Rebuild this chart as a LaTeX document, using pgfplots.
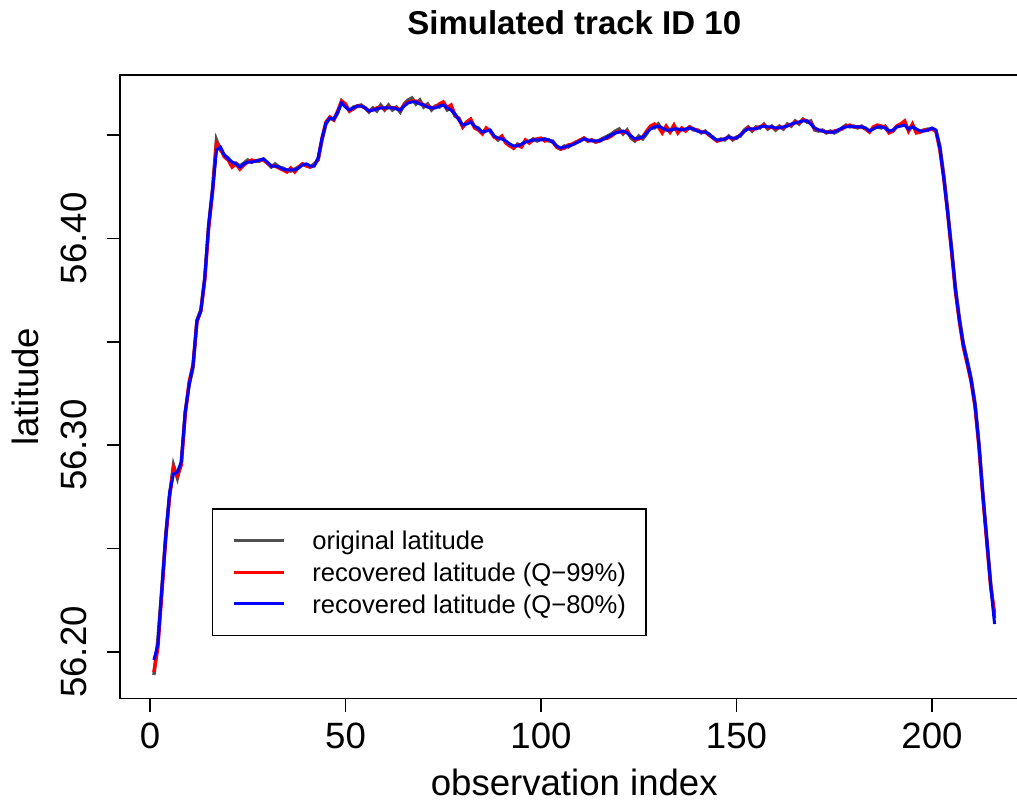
\documentclass[border=0pt]{standalone}
\usepackage{fontspec}
\setmainfont{Liberation Sans}
\usepackage{pgfplots}
\usepackage{pgfplotstable}
\pgfplotsset{compat=1.18}
\definecolor{origgray}{HTML}{505050}
\definecolor{recred}{HTML}{FF0000}
\definecolor{recblue}{HTML}{0000FF}

\pgfplotstableread{
idx gray red blue
1 56.1889 56.1903 56.1961
2 56.2058 56.2019 56.2034
3 56.2300 56.2276 56.2300
4 56.2566 56.2542 56.2551
5 56.2759 56.2750 56.2769
6 56.2904 56.2890 56.2861
7 56.2841 56.2851 56.2870
8 56.2919 56.2904 56.2919
9 56.3161 56.3146 56.3161
10 56.3291 56.3306 56.3291
11 56.3373 56.3388 56.3388
12 56.3605 56.3596 56.3601
13 56.3654 56.3649 56.3649
14 56.3809 56.3799 56.3809
15 56.4065 56.4050 56.4065
16 56.4244 56.4224 56.4234
17 56.4476 56.4461 56.4427
18 56.4427 56.4437 56.4442
19 56.4403 56.4394 56.4403
20 56.4389 56.4379 56.4384
21 56.4364 56.4345 56.4369
22 56.4364 56.4360 56.4360
23 56.4350 56.4335 56.4345
24 56.4364 56.4355 56.4360
25 56.4379 56.4369 56.4369
26 56.4369 56.4379 56.4369
27 56.4374 56.4374 56.4374
28 56.4374 56.4379 56.4379
29 56.4384 56.4379 56.4384
30 56.4364 56.4364 56.4369
31 56.4345 56.4350 56.4350
32 56.4360 56.4350 56.4350
33 56.4345 56.4340 56.4345
34 56.4340 56.4331 56.4335
35 56.4331 56.4321 56.4331
36 56.4326 56.4340 56.4331
37 56.4335 56.4321 56.4331
38 56.4345 56.4345 56.4340
39 56.4360 56.4360 56.4355
40 56.4355 56.4350 56.4360
41 56.4345 56.4345 56.4350
42 56.4360 56.4355 56.4350
43 56.4379 56.4384 56.4389
44 56.4476 56.4485 56.4485
45 56.4553 56.4563 56.4558
46 56.4582 56.4587 56.4582
47 56.4573 56.4573 56.4577
48 56.4606 56.4616 56.4611
49 56.4664 56.4664 56.4655
50 56.4640 56.4650 56.4635
51 56.4616 56.4616 56.4621
52 56.4635 56.4626 56.4631
53 56.4640 56.4640 56.4640
54 56.4645 56.4640 56.4640
55 56.4631 56.4631 56.4631
56 56.4611 56.4616 56.4616
57 56.4631 56.4621 56.4621
58 56.4616 56.4631 56.4626
59 56.4645 56.4635 56.4631
60 56.4621 56.4626 56.4631
61 56.4645 56.4635 56.4631
62 56.4621 56.4631 56.4631
63 56.4635 56.4631 56.4626
64 56.4611 56.4621 56.4621
65 56.4650 56.4645 56.4640
66 56.4669 56.4660 56.4655
67 56.4679 56.4664 56.4660
68 56.4650 56.4664 56.4660
69 56.4669 56.4655 56.4650
70 56.4635 56.4645 56.4645
71 56.4650 56.4640 56.4635
72 56.4621 56.4631 56.4631
73 56.4640 56.4635 56.4631
74 56.4635 56.4650 56.4640
75 56.4655 56.4660 56.4645
76 56.4621 56.4631 56.4631
77 56.4631 56.4645 56.4621
78 56.4592 56.4597 56.4602
79 56.4582 56.4577 56.4573
80 56.4539 56.4539 56.4548
81 56.4563 56.4563 56.4553
82 56.4573 56.4577 56.4563
83 56.4539 56.4534 56.4543
84 56.4534 56.4524 56.4529
85 56.4510 56.4505 56.4514
86 56.4529 56.4534 56.4519
87 56.4519 56.4519 56.4524
88 56.4495 56.4490 56.4495
89 56.4476 56.4481 56.4485
90 56.4490 56.4495 56.4481
91 56.4466 56.4461 56.4471
92 56.4456 56.4447 56.4456
93 56.4437 56.4437 56.4447
94 56.4456 56.4452 56.4447
95 56.4447 56.4442 56.4456
96 56.4471 56.4476 56.4466
97 56.4466 56.4461 56.4471
98 56.4481 56.4476 56.4476
99 56.4471 56.4481 56.4476
100 56.4481 56.4485 56.4476
101 56.4481 56.4471 56.4481
102 56.4471 56.4476 56.4476
103 56.4471 56.4466 56.4466
104 56.4442 56.4442 56.4447
105 56.4432 56.4432 56.4437
106 56.4447 56.4437 56.4442
107 56.4442 56.4452 56.4447
108 56.4456 56.4456 56.4452
109 56.4466 56.4466 56.4461
110 56.4471 56.4476 56.4471
111 56.4485 56.4485 56.4481
112 56.4471 56.4471 56.4476
113 56.4476 56.4476 56.4471
114 56.4466 56.4466 56.4471
115 56.4476 56.4471 56.4471
116 56.4485 56.4481 56.4481
117 56.4495 56.4485 56.4490
118 56.4505 56.4495 56.4500
119 56.4519 56.4510 56.4510
120 56.4529 56.4519 56.4514
121 56.4505 56.4510 56.4519
122 56.4524 56.4519 56.4510
123 56.4485 56.4495 56.4495
124 56.4471 56.4476 56.4481
125 56.4495 56.4481 56.4485
126 56.4481 56.4490 56.4490
127 56.4505 56.4519 56.4510
128 56.4539 56.4543 56.4529
129 56.4534 56.4553 56.4539
130 56.4553 56.4539 56.4543
131 56.4524 56.4510 56.4534
132 56.4534 56.4543 56.4524
133 56.4514 56.4514 56.4524
134 56.4534 56.4548 56.4529
135 56.4519 56.4510 56.4529
136 56.4529 56.4534 56.4524
137 56.4524 56.4519 56.4529
138 56.4539 56.4539 56.4534
139 56.4524 56.4529 56.4529
140 56.4524 56.4524 56.4519
141 56.4510 56.4514 56.4514
142 56.4519 56.4514 56.4514
143 56.4500 56.4500 56.4505
144 56.4490 56.4485 56.4485
145 56.4471 56.4471 56.4476
146 56.4481 56.4476 56.4476
147 56.4476 56.4481 56.4481
148 56.4495 56.4490 56.4490
149 56.4476 56.4481 56.4485
150 56.4490 56.4485 56.4485
151 56.4495 56.4500 56.4500
152 56.4524 56.4519 56.4519
153 56.4539 56.4534 56.4529
154 56.4519 56.4524 56.4529
155 56.4539 56.4534 56.4529
156 56.4534 56.4539 56.4539
157 56.4553 56.4548 56.4543
158 56.4529 56.4534 56.4539
159 56.4543 56.4539 56.4539
160 56.4524 56.4529 56.4534
161 56.4543 56.4539 56.4534
162 56.4529 56.4534 56.4539
163 56.4553 56.4548 56.4543
164 56.4543 56.4548 56.4553
165 56.4568 56.4563 56.4558
166 56.4553 56.4558 56.4563
167 56.4577 56.4573 56.4568
168 56.4563 56.4568 56.4568
169 56.4568 56.4558 56.4553
170 56.4524 56.4529 56.4534
171 56.4519 56.4524 56.4524
172 56.4524 56.4519 56.4519
173 56.4510 56.4514 56.4514
174 56.4519 56.4514 56.4514
175 56.4510 56.4519 56.4514
176 56.4519 56.4524 56.4524
177 56.4534 56.4529 56.4534
178 56.4548 56.4543 56.4539
179 56.4539 56.4548 56.4543
180 56.4543 56.4539 56.4539
181 56.4534 56.4539 56.4539
182 56.4543 56.4539 56.4539
183 56.4529 56.4529 56.4534
184 56.4519 56.4514 56.4519
185 56.4534 56.4539 56.4529
186 56.4539 56.4548 56.4539
187 56.4534 56.4543 56.4539
188 56.4543 56.4539 56.4534
189 56.4519 56.4510 56.4519
190 56.4519 56.4519 56.4524
191 56.4543 56.4543 56.4539
192 56.4553 56.4553 56.4543
193 56.4558 56.4568 56.4548
194 56.4524 56.4519 56.4529
195 56.4548 56.4553 56.4539
196 56.4514 56.4510 56.4529
197 56.4519 56.4514 56.4519
198 56.4524 56.4524 56.4519
199 56.4529 56.4524 56.4524
200 56.4529 56.4529 56.4534
201 56.4519 56.4519 56.4524
202 56.4447 56.4427 56.4437
203 56.4307 56.4292 56.4292
204 56.4137 56.4123 56.4123
205 56.3954 56.3934 56.3944
206 56.3760 56.3741 56.3751
207 56.3615 56.3596 56.3605
208 56.3494 56.3475 56.3485
209 56.3412 56.3393 56.3402
210 56.3325 56.3306 56.3315
211 56.3204 56.3185 56.3194
212 56.3011 56.2991 56.3001
213 56.2769 56.2750 56.2759
214 56.2551 56.2532 56.2542
215 56.2334 56.2314 56.2324
216 56.2164 56.2189 56.2135
}\track

\begin{document}
\begin{tikzpicture}
\begin{axis}[
  at={(0pt,0pt)}, anchor=south west,
  scale only axis, width=453.95pt, height=311.65pt,
  xmin=-7.6, xmax=224.6, ymin=56.17761, ymax=56.47901,
  axis line style={line width=0.8pt, black},
  tick style={line width=0.8pt, black},
  tick align=outside, major tick length=6.7pt,
  tick pos=left,
  xtick={0,50,100,150,200}, xticklabels={0,50,100,150,200},
  ytick={56.20,56.25,56.30,56.35,56.40,56.45},
  yticklabels={56.20,,56.30,,56.40,},
  ticklabel style={font=\fontsize{18.3}{22}\selectfont},
  xticklabel style={anchor=base},
  yticklabel style={rotate=90, anchor=base},
  xticklabel shift=18.3pt,
  yticklabel shift=10pt,
  title={Simulated track ID 10},
  title style={at={(axis description cs:0.5,1.0460)}, anchor=base, font=\fontsize{16.5}{19}\selectfont\bfseries},
  xlabel={observation index},
  xlabel style={at={(axis description cs:0.5,-0.1552)}, anchor=base, font=\fontsize{18.3}{22}\selectfont},
  ylabel={latitude},
  ylabel style={at={(axis description cs:-0.0903,0.5)}, anchor=base, rotate=0, font=\fontsize{18.3}{22}\selectfont},
  legend cell align=left,
  legend style={at={(axis description cs:0.10067,0.30483)}, anchor=north west,
    draw=black, line width=0.6pt, inner xsep=10pt, inner ysep=7.9pt,
    font=\fontsize{12.8}{15}\selectfont, row sep=0pt,
    /tikz/every odd column/.append style={column sep=13.3pt},
    nodes={inner sep=0pt, text height=12.575pt, text depth=3.275pt}},
  legend image code/.code={\draw[#1] (0pt,0pt) -- (25pt,0pt);},
]
\addplot[origgray, line width=1.7pt] table[x=idx, y=gray] {\track};
\addlegendentry{original latitude}
\addplot[recred, line width=1.7pt] table[x=idx, y=red] {\track};
\addlegendentry{recovered latitude (Q−99\%)}
\addplot[recblue, line width=1.5pt] table[x=idx, y=blue] {\track};
\addlegendentry{recovered latitude (Q−80\%)}
\end{axis}
\pgfresetboundingbox
\useasboundingbox (-60.15pt,-53.35pt) rectangle (448.35pt,349.15pt);
\end{tikzpicture}
\end{document}
